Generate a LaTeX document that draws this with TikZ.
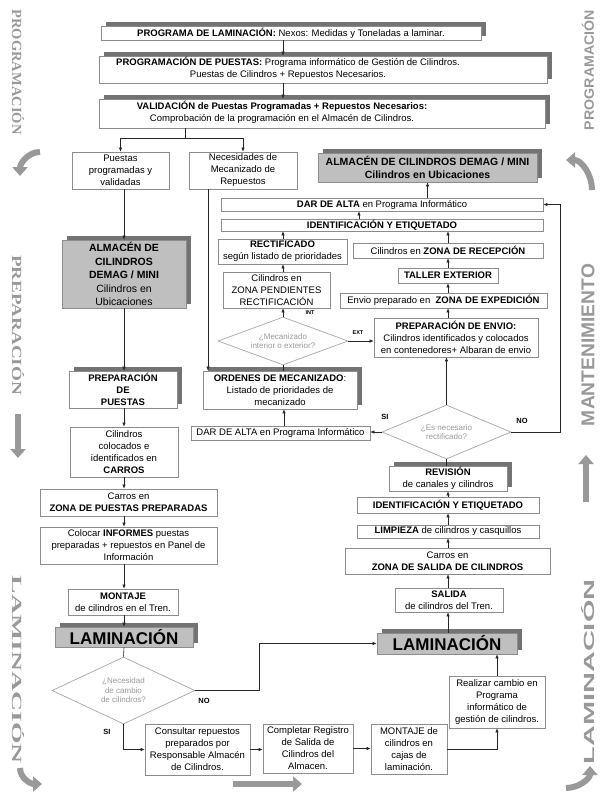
\documentclass[tikz,border=0pt]{standalone}
\usepackage{fontspec}
\setmainfont{Liberation Sans}
\newfontfamily\sidefont{Liberation Serif}
\usetikzlibrary{shapes.geometric,arrows.meta,shadows}

\tikzset{
  box/.style={draw=black!45, fill=white, line width=0.7pt, align=center, inner sep=0.5pt,
    font=\fontsize{9.5}{12}\selectfont},
  shadowbox/.style={box, drop shadow={shadow xshift=5pt, shadow yshift=4pt, fill=black!55, opacity=1}},
  graybox/.style={shadowbox, fill=black!25, font=\fontsize{10.5}{13.5}\selectfont},
  bigbox/.style={graybox, font=\fontsize{17}{17}\selectfont\bfseries},
  decision/.style={diamond, draw=black!35, line width=0.7pt, fill=white, inner sep=0pt, align=center,
    text=black!40, font=\fontsize{8}{9.5}\selectfont},
  arr/.style={draw=black!85, line width=0.6pt, -{Latex[length=4pt,width=3.5pt]}},
  lnk/.style={draw=black!85, line width=0.6pt},
  tag/.style={font=\fontsize{7.5}{8}\selectfont\bfseries, inner sep=0pt},
  sidelabel/.style={text=black!40, inner sep=0pt},
  flowarrow/.style={draw=black!40, line width=6pt, -{Triangle[length=9pt,width=15pt]}}
}

\begin{document}
\begin{tikzpicture}[x=1pt, y=-1pt]
    \useasboundingbox (0,0) rectangle (603,793);

    % Programacion
    \node[shadowbox, minimum width=380pt, minimum height=14pt] (prog) at (291,33)
        {\textbf{PROGRAMA DE LAMINACIÓN:} Nexos: Medidas y Toneladas a laminar.};
    \node[shadowbox, minimum width=448pt, minimum height=27pt] (puestas) at (323,69.5)
        {\begin{tabular}{@{}c@{}}\textbf{PROGRAMACIÓN DE PUESTAS:} Programa informático de Gestión de Cilindros.\\Puestas de Cilindros + Repuestos Necesarios.\end{tabular}\hspace{70pt}};
    \node[shadowbox, minimum width=446pt, minimum height=29pt] (valid) at (322,113.5)
        {\begin{tabular}{@{}c@{}}\textbf{VALIDACIÓN de Puestas Programadas + Repuestos Necesarios:}\\Comprobación de la programación en el Almacén de Cilindros.\end{tabular}\hspace{80pt}};
    \node[box, minimum width=97pt, minimum height=37pt] (validadas) at (120.5,170.5) {Puestas\\programadas y\\validadas};
    \node[box, minimum width=108pt, minimum height=37pt] (necesid) at (243,170.5) {Necesidades de\\Mecanizado de\\Repuestos};

    % Preparacion
    \node[graybox, minimum width=124pt, minimum height=68pt] (almIzq) at (124,274)
        {\textbf{ALMACÉN DE}\\\textbf{CILINDROS}\\\textbf{DEMAG / MINI}\\Cilindros en\\Ubicaciones};
    \node[shadowbox, minimum width=108pt, minimum height=37pt] (prepara) at (123,389.5)
        {\textbf{PREPARACIÓN}\\\textbf{DE}\\\textbf{PUESTAS}};
    \node[box, minimum width=108pt, minimum height=50pt] (carros) at (124,452) {Cilindros\\colocados e\\identificados en\\\textbf{CARROS}};
    \node[box, minimum width=177pt, minimum height=27pt] (zonaPue) at (128.5,502.5) {Carros en\\\textbf{ZONA DE PUESTAS PREPARADAS}};
    \node[box, minimum width=177pt, minimum height=37pt] (informes) at (128.5,545.5)
        {Colocar \textbf{INFORMES} puestas\\preparadas + repuestos en Panel de\\Información};
    \node[box, minimum width=110pt, minimum height=26pt] (montIzq) at (123,602) {\textbf{MONTAJE}\\de cilindros en el Tren.};

    % Laminacion
    \node[bigbox, minimum width=138pt, minimum height=20pt] (lamIzq) at (124,637) {LAMINACIÓN};
    \node[decision, minimum width=143pt, minimum height=67pt, aspect=2.1] (cambioNec) at (123.5,690.5) {¿Necesidad\\de cambio\\de cilindros?};
    \node[box, minimum width=105pt, minimum height=51pt] (consulta) at (197.5,749.5) {Consultar repuestos\\preparados por\\Responsable Almacén\\de Cilindros.};
    \node[box, minimum width=90pt, minimum height=49pt] (registro) at (308,748.5) {Completar Registro\\de Salida de\\Cilindros del\\Almacen.};
    \node[box, minimum width=76pt, minimum height=50pt] (montDer) at (409,749) {MONTAJE de\\cilindros en\\cajas de\\laminación.};
    \node[box, minimum width=96pt, minimum height=52pt] (cambio) at (497,702) {Realizar cambio en\\Programa\\informático de\\gestión de cilindros.};
    \node[bigbox, minimum width=140pt, minimum height=21pt] (lamDer) at (447,643.5) {LAMINACIÓN};

    % Mantenimiento
    \node[box, minimum width=108pt, minimum height=24pt] (salida) at (449,600) {\textbf{SALIDA}\\de cilindros del Tren.};
    \node[box, minimum width=205pt, minimum height=26pt] (zonaSal) at (447.5,561) {Carros en\\\textbf{ZONA DE SALIDA DE CILINDROS}};
    \node[box, minimum width=182pt, minimum height=13pt] (limpieza) at (448,531.5) {\textbf{LIMPIEZA} de cilindros y casquillos};
    \node[box, minimum width=182pt, minimum height=16pt] (identInf) at (448,505) {\textbf{IDENTIFICACIÓN Y ETIQUETADO}};
    \node[shadowbox, minimum width=118pt, minimum height=25pt] (revision) at (448,478.5) {\textbf{REVISIÓN}\\de canales y cilindros};
    \node[decision, minimum width=129pt, minimum height=54pt, aspect=2.4] (rectNec) at (446.5,432) {¿Es necesario\\rectificado?};
    \node[box, minimum width=179pt, minimum height=14pt] (altaMed) at (280.5,433) {DAR DE ALTA en Programa Informático};
    \node[shadowbox, minimum width=154pt, minimum height=38pt] (ordenes) at (280,390)
        {\textbf{ORDENES DE MECANIZADO}:\\Listado de prioridades de\\mecanizado};
    \node[decision, minimum width=130pt, minimum height=48pt, aspect=2.7] (mecaniz) at (283,341) {¿Mecanizado\\interior o exterior?};
    \node[box, minimum width=164pt, minimum height=39pt] (envio) at (456,337.5)
        {\textbf{PREPARACIÓN DE ENVIO:}\\Cilindros identificados y colocados\\en contenedores+ Albaran de envio};
    \node[box, minimum width=207pt, minimum height=15pt] (exped) at (443.5,300.5) {Envio preparado en \ \textbf{ZONA DE EXPEDICIÓN}};
    \node[box, minimum width=107pt, minimum height=36pt] (pendient) at (276.5,290) {Cilindros en\\ZONA PENDIENTES\\RECTIFICACIÓN};
    \node[box, minimum width=100pt, minimum height=15pt] (taller) at (448,275.5) {\textbf{TALLER EXTERIOR}};
    \node[box, minimum width=190pt, minimum height=15pt] (recep) at (448,250.5) {Cilindros en \textbf{ZONA DE RECEPCIÓN}};
    \node[box, minimum width=129pt, minimum height=25pt] (rectif) at (282.5,251.5) {\textbf{RECTIFICADO}\\según listado de prioridades};
    \node[box, minimum width=322pt, minimum height=12pt] (identSup) at (382,225) {\textbf{IDENTIFICACIÓN Y ETIQUETADO}};
    \node[box, minimum width=322pt, minimum height=13pt] (altaSup) at (382,204.5) {\textbf{DAR DE ALTA} en Programa Informático};
    \node[graybox, minimum width=219pt, minimum height=29pt] (almDer) at (427.5,167.5)
        {\textbf{ALMACÉN DE CILINDROS DEMAG / MINI}\\\textbf{Cilindros en Ubicaciones}};

    % Labels
    \node[tag] (noIzq) at (204,701) {NO};
    \node[tag] (siIzq) at (107,732) {SI};
    \node[tag] (siDer) at (385,417) {SI};
    \node[tag] (noDer) at (522,421) {NO};
    \node[tag, font=\fontsize{5.5}{6}\selectfont\bfseries] (intLbl) at (310,313) {INT};
    \node[tag, font=\fontsize{5.5}{6}\selectfont\bfseries] (extLbl) at (358,333) {EXT};

    % Axes for the connectors
    \coordinate (ejeProg) at (283,0);
    \coordinate (reparto) at (185,138);
    \coordinate (ejeIzq) at (124,0);
    \coordinate (ejeMant) at (448,0);
    \coordinate (ejeOrd) at (284,0);
    \coordinate (bajada) at (208,0);
    \coordinate (subida) at (359,0);
    \coordinate (quiebre) at (259,0);
    \coordinate (retorno) at (560,0);

    % Connectors
    \draw[arr] (prog.south -| ejeProg) -- (puestas.north -| ejeProg);
    \draw[arr] (puestas.south -| ejeProg) -- (valid.north -| ejeProg);
    \draw[lnk] (valid.south -| reparto) -- (reparto);
    \draw[arr] (reparto) -| (validadas.north);
    \draw[arr] (reparto) -| (necesid.north);
    \draw[arr] (validadas.south -| ejeIzq) -- (almIzq.north -| ejeIzq);
    \draw[arr] (almIzq.south -| ejeIzq) -- (prepara.north -| ejeIzq);
    \foreach \a/\b in {prepara/carros, carros/zonaPue, zonaPue/informes, informes/montIzq, montIzq/lamIzq}
        \draw[arr] (\a.south -| ejeIzq) -- (\b.north -| ejeIzq);
    \draw[lnk] (lamIzq.south -| ejeIzq) -- (cambioNec.north);
    \draw[arr] (cambioNec.east) -- (cambioNec.east -| quiebre) |- (lamDer.west);
    \draw[arr] (cambioNec.south) |- (consulta.west);
    \draw[arr] (consulta.east) -- (consulta.east -| registro.west);
    \draw[arr] (registro.east) -- (registro.east -| montDer.west);
    \draw[arr] (montDer.east) -| (cambio.south);
    \draw[arr] (cambio.north) -- (cambio.north |- lamDer.south);
    \foreach \a/\b in {lamDer/salida, salida/zonaSal, zonaSal/limpieza, limpieza/identInf, identInf/revision}
        \draw[arr] (\a.north -| ejeMant) -- (\b.south -| ejeMant);
    \draw[lnk] (revision.north -| rectNec) -- (rectNec.south);
    \draw[arr] (rectNec.north) -- (rectNec.north |- envio.south);
    \draw[arr] (rectNec.west) -- (rectNec.west -| altaMed.east);
    \draw[arr] (rectNec.east) -- (rectNec.east -| retorno) |- (altaSup.east);
    \draw[arr] (altaMed.north -| ejeOrd) -- (ordenes.south -| ejeOrd);
    \draw[lnk] (ordenes.north -| mecaniz) -- (mecaniz.south);
    \draw[arr] (necesid.south -| bajada) -- (ordenes.north -| bajada);
    \draw[arr] (mecaniz.north) -- (mecaniz.north |- pendient.south);
    \draw[arr] (mecaniz.east) -- (mecaniz.east -| envio.west);
    \draw[arr] (pendient.north -| mecaniz) -- (rectif.south -| mecaniz);
    \draw[arr] (rectif.north -| mecaniz) -- (identSup.south -| mecaniz);
    \draw[arr] (identSup.north -| subida) -- (altaSup.south -| subida);
    \draw[arr] (altaSup.north -| almDer) -- (almDer.south);
    \foreach \a/\b in {envio/exped, exped/taller, taller/recep, recep/identSup}
        \draw[arr] (\a.north -| ejeMant) -- (\b.south -| ejeMant);

    % Side phases
    \node[sidelabel, rotate=-90] (ladoProg) at (18,72) {\resizebox{125pt}{12pt}{\sidefont\bfseries PROGRAMACIÓN}};
    \node[sidelabel, rotate=-90] (ladoPrep) at (18,325) {\resizebox{140pt}{12pt}{\sidefont\bfseries PREPARACIÓN}};
    \node[sidelabel, rotate=-90] (ladoLamI) at (18,670) {\resizebox{188pt}{12pt}{\sidefont\bfseries LAMINACIÓN}};
    \node[sidelabel, rotate=90] (ladoProgD) at (588,70) {\resizebox{120pt}{12pt}{\bfseries PROGRAMACIÓN}};
    \node[sidelabel, rotate=90] (ladoMant) at (588,345) {\resizebox{162pt}{13pt}{\bfseries MANTENIMIENTO}};
    \node[sidelabel, rotate=90] (ladoLamD) at (588,672) {\resizebox{185pt}{13pt}{\bfseries LAMINACIÓN}};
    \draw[flowarrow] (40,152) to[out=180,in=90] (20,176);
    \draw[flowarrow] (18,414) -- (18,458);
    \draw[flowarrow] (20,768) to[out=-90,in=180] (42,784);
    \draw[flowarrow] (233,784) -- (302,784);
    \draw[flowarrow] (566,788) to[out=0,in=-90] (590,766);
    \draw[flowarrow] (586,502) -- (586,455);
    \draw[flowarrow] (592,190) to[out=90,in=0] (566,160);
\end{tikzpicture}
\end{document}
